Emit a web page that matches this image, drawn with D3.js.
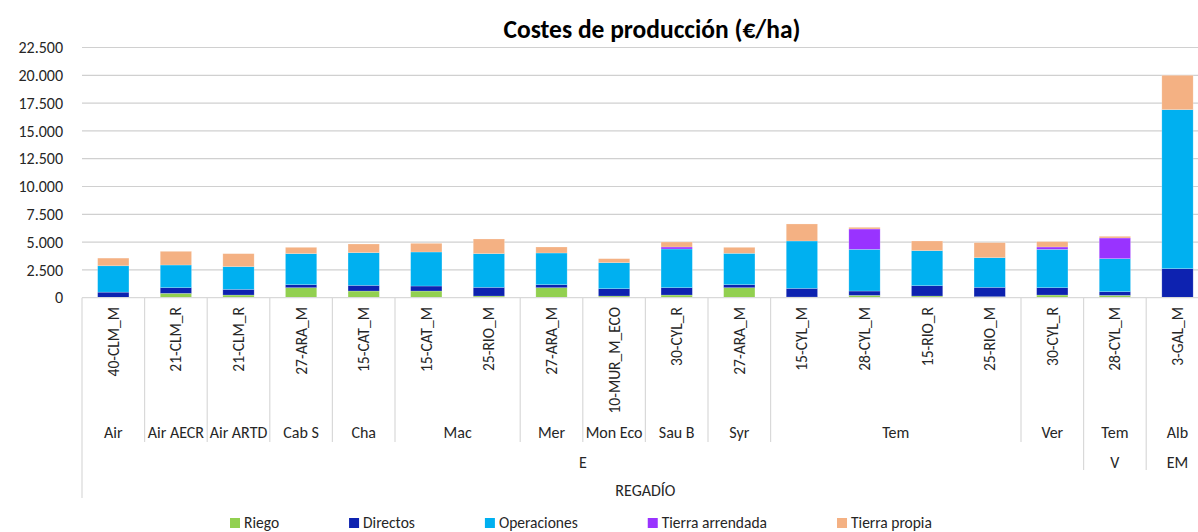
<!DOCTYPE html>
<html>
<head>
<meta charset="utf-8">
<script src="https://cdn.jsdelivr.net/npm/d3@7"></script>
<style>
  body { margin: 0; background: #fff; }
  text { font-family: Carlito, Calibri, "Liberation Sans", Arial, sans-serif; fill: #262626; }
</style>
</head>
<body>
<div id="chart"></div>
<script>
// categories (level 1) and the group levels under them
const categories = ["40-CLM_M", "21-CLM_R", "21-CLM_R", "27-ARA_M", "15-CAT_M", "15-CAT_M", "25-RIO_M", "27-ARA_M",
  "10-MUR_M_ECO", "30-CYL_R", "27-ARA_M", "15-CYL_M", "28-CYL_M", "15-RIO_R", "25-RIO_M", "30-CYL_R", "28-CYL_M", "3-GAL_M"];
const level2 = ["Air", "Air AECR", "Air ARTD", "Cab S", "Cha", "Mac", "Mac", "Mer", "Mon Eco", "Sau B", "Syr",
  "Tem", "Tem", "Tem", "Tem", "Ver", "Tem", "Alb"];
const level3 = ["E", "E", "E", "E", "E", "E", "E", "E", "E", "E", "E", "E", "E", "E", "E", "E", "V", "EM"];
const level4 = Array(18).fill("REGADÍO");

// series values (€/ha)
const riego       = [20, 390, 240, 900, 600, 600, 150, 900, 150, 240, 900, 60, 210, 150, 90, 240, 210, 40];
const directos    = [480, 510, 510, 270, 510, 450, 780, 270, 660, 660, 270, 780, 390, 930, 840, 660, 330, 2570];
const operaciones = [2370, 2040, 2040, 2790, 2940, 3060, 3030, 2850, 2340, 3480, 2820, 4260, 3750, 3150, 2670, 3450, 2970, 14300];
const arrendada   = [0, 0, 0, 0, 0, 0, 0, 0, 0, 180, 0, 0, 1830, 0, 0, 210, 1860, 0];
const propia      = [690, 1230, 1170, 570, 780, 780, 1320, 540, 360, 450, 540, 1530, 150, 870, 1350, 480, 150, 3090];

const seriesNames = ["Riego", "Directos", "Operaciones", "Tierra arrendada", "Tierra propia"];
const yTicks = [0, 2500, 5000, 7500, 10000, 12500, 15000, 17500, 20000, 22500];

const W = 1198, H = 532;
const plot = {left: 82, right: 1208.8, top: 47.5, bottom: 297.7};

const svg = d3.select("#chart").append("svg")
  .attr("width", W).attr("height", H);

const color = d3.scaleOrdinal()
  .domain(seriesNames)
  .range(["#92D050", "#0D22B0", "#00B0F0", "#9933FF", "#F4B183"]);

const x = d3.scaleBand()
  .domain(d3.range(categories.length))
  .range([plot.left, plot.right])
  .paddingInner(0.5)
  .paddingOuter(0.25);

const y = d3.scaleLinear()
  .domain([0, 22500])
  .range([plot.bottom, plot.top]);

const es = d3.formatLocale({decimal: ",", thousands: ".", grouping: [3], currency: ["", "€"]});
const fmt = es.format(",");

// gridlines
svg.append("g").selectAll("line")
  .data(yTicks.slice(1))
  .join("line")
  .attr("x1", plot.left).attr("x2", plot.right)
  .attr("y1", d => y(d)).attr("y2", d => y(d))
  .attr("stroke", "#d0d0d0").attr("stroke-width", 1.2);

// y axis labels
svg.append("g").selectAll("text")
  .data(yTicks)
  .join("text")
  .attr("x", 63)
  .attr("y", d => y(d))
  .attr("dy", "0.35em")
  .attr("text-anchor", "end")
  .attr("font-size", "16px")
  .text(d => fmt(d));

// stacked bars
const table = categories.map((c, i) => ({
  "Riego": riego[i], "Directos": directos[i], "Operaciones": operaciones[i],
  "Tierra arrendada": arrendada[i], "Tierra propia": propia[i], idx: i
}));
const stacked = d3.stack().keys(seriesNames)(table);

svg.append("g").selectAll("g")
  .data(stacked)
  .join("g")
  .attr("fill", d => color(d.key))
  .selectAll("rect")
  .data(d => d)
  .join("rect")
  .attr("x", d => x(d.data.idx))
  .attr("width", x.bandwidth())
  .attr("y", d => y(d[1]))
  .attr("height", d => y(d[0]) - y(d[1]))
  .attr("stroke", "#ffffff").attr("stroke-opacity", 0.35).attr("stroke-width", 0.6);

// category axis line
svg.append("line")
  .attr("x1", plot.left).attr("x2", plot.right)
  .attr("y1", plot.bottom).attr("y2", plot.bottom)
  .attr("stroke", "#d9d9d9").attr("stroke-width", 1.2);

// rotated category labels
svg.append("g").selectAll("text")
  .data(categories)
  .join("text")
  .attr("transform", (d, i) => `translate(${x(i) + x.bandwidth() / 2},307) rotate(-90)`)
  .attr("dy", "0.35em")
  .attr("text-anchor", "end")
  .attr("font-size", "15.5px")
  .text(d => d);

// group runs for each level
const levels = [level2, level3, level4];
const keyAt = (lv, i) => levels.slice(lv).map(a => a[i]).join("|");
function runs(lv) {
  const out = [];
  categories.forEach((c, i) => {
    const k = keyAt(lv, i);
    if (out.length && out[out.length - 1].key === k) out[out.length - 1].end = i;
    else out.push({key: k, label: levels[lv][i], start: i, end: i});
  });
  return out;
}
const step = x.step();
const edge = k => plot.left + k * step;
const labelY = [432.5, 462, 490];
const lineBottom = [442, 470, 498];

// separator lines: each boundary goes down to the deepest level it splits
const boundaryDepth = new Map();
[0, 1, 2].forEach(lv => {
  runs(lv).forEach(r => {
    [r.start, r.end + 1].forEach(k => boundaryDepth.set(k, Math.max(boundaryDepth.get(k) ?? -1, lv)));
  });
});
svg.append("g").selectAll("line")
  .data(Array.from(boundaryDepth))
  .join("line")
  .attr("x1", d => edge(d[0])).attr("x2", d => edge(d[0]))
  .attr("y1", plot.bottom).attr("y2", d => lineBottom[d[1]])
  .attr("stroke", "#d9d9d9").attr("stroke-width", 1.2);

[0, 1, 2].forEach(lv => {
  svg.append("g").selectAll("text")
    .data(runs(lv))
    .join("text")
    .attr("x", r => (edge(r.start) + edge(r.end + 1)) / 2)
    .attr("y", labelY[lv])
    .attr("dy", "0.35em")
    .attr("text-anchor", "middle")
    .attr("font-size", "16px")
    .text(r => r.label);
});

// title
svg.append("text")
  .attr("x", 652).attr("y", 38)
  .attr("text-anchor", "middle")
  .attr("font-size", "25.5px")
  .attr("font-weight", "bold")
  .style("fill", "#000")
  .text("Costes de producción (€/ha)");

// legend
const legend = svg.append("g").attr("transform", "translate(230,523)");
let lx = 0;
seriesNames.forEach(name => {
  const g = legend.append("g").attr("transform", `translate(${lx},0)`);
  g.append("rect").attr("x", 0).attr("y", -5).attr("width", 10).attr("height", 10).attr("fill", color(name));
  const t = g.append("text").attr("x", 14).attr("dy", "0.35em").attr("font-size", "15.5px").text(name);
  lx += 14 + t.node().getComputedTextLength() + 70;
});
</script>
</body>
</html>
